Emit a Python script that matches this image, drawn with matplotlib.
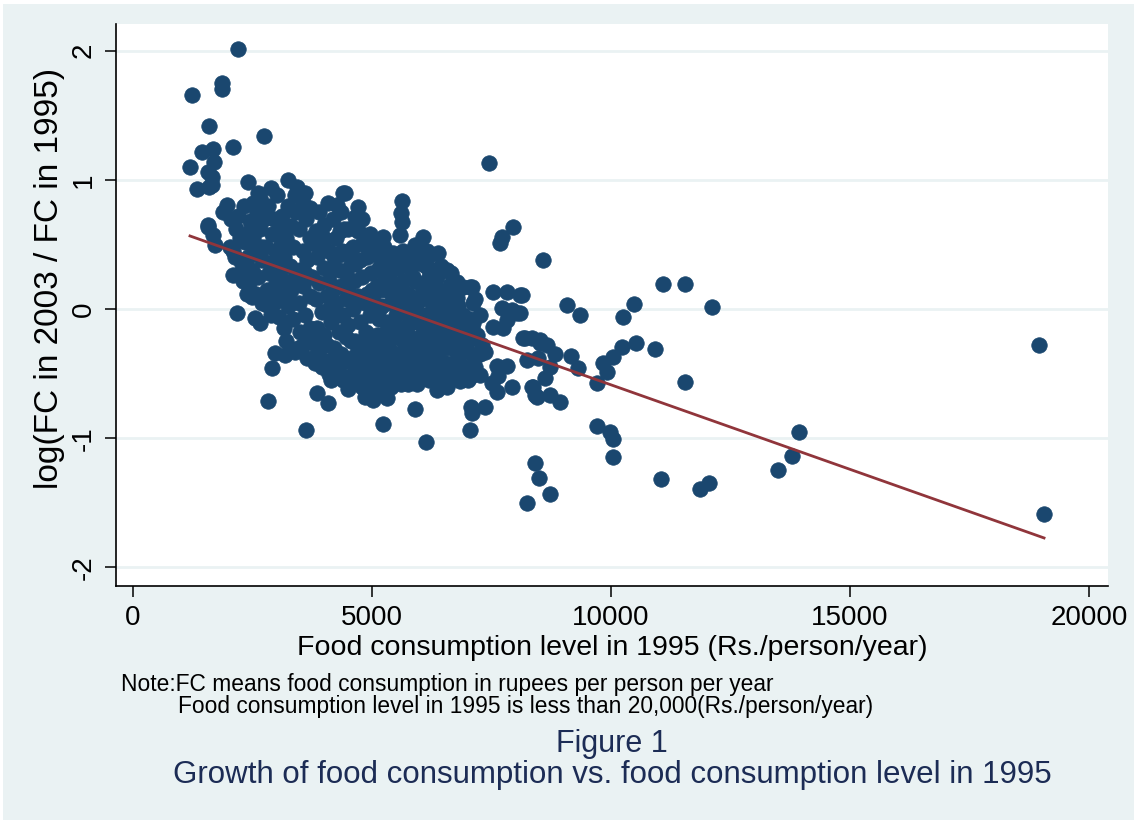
import numpy as np
import matplotlib
matplotlib.use("Agg")
import matplotlib.pyplot as plt
from matplotlib.patches import Rectangle

plt.rcParams['font.family'] = ['Liberation Sans', 'DejaVu Sans']

# (food consumption 1995 in Rs./person/year, log(FC2003/FC1995))
points_low_level = [
    (2203, 2.01), (1855, 1.747), (1855, 1.70), (1228, 1.656), (1597, 1.416),
    (2734, 1.339), (2085, 1.256), (1437, 1.218), (1667, 1.236), (1695, 1.135),
    (1192, 1.10), (1575, 1.06), (1646, 1.02), (1332, 0.926), (1597, 0.947),
    (2413, 0.985), (3250, 1.0), (3424, 0.947), (2887, 0.934), (2622, 0.895),
    (4387, 0.895), (2517, 0.818), (1960, 0.805), (4261, 0.805), (1575, 0.65),
    (1883, 0.753), (1646, 0.96), (1576, 0.637), (1681, 0.573), (1716, 0.495),
    (2029, 0.482), (2134, 0.405), (2448, 0.60), (2343, 0.52), (2099, 0.263),
    (2169, -0.033), (2552, -0.072), (2657, -0.111), (2797, 0.031), (2483, 0.095),
    (2971, -0.338), (2901, -0.459), (2831, -0.71), (3619, -0.937), (3843, -0.652),
    (4086, -0.725), (3389, -0.33), (3180, -0.356),
    (2050, 0.70), (2150, 0.62), (2230, 0.55), (2100, 0.45), (2280, 0.35),
    (2200, 0.72), (2320, 0.80), (2250, 0.28), (2300, 0.22), (2380, 0.12),
]

points_core = [
    (2420, 0.20), (2480, 0.30), (2400, 0.40), (2560, 0.46), (2450, 0.68),
    (2600, 0.75), (2650, 0.62), (2520, 0.55), (2700, 0.38), (2620, 0.25),
    (2580, 0.12), (2700, 0.05), (2660, 0.86), (2750, 0.70),
    (2800, 0.15), (2850, 0.28), (2780, 0.48), (2900, 0.58), (2820, 0.80),
    (2950, 0.70), (3000, 0.45), (2900, 0.36), (3000, 0.20), (2950, 0.05),
    (3050, -0.06), (2880, -0.05), (3020, 0.88), (3050, 0.62), (3080, 0.30),
    (3150, -0.15), (3200, -0.25), (3120, 0.10), (3250, 0.02), (3180, 0.22),
    (3300, 0.15), (3150, 0.40), (3280, 0.33), (3200, 0.55), (3350, 0.48),
    (3120, 0.72), (3300, 0.64), (3250, 0.80), (3380, 0.88), (3350, -0.08),
    (3400, 0.75), (3400, 0.28),
    (3450, -0.30), (3500, -0.18), (3600, -0.05), (3480, 0.05), (3560, 0.18),
    (3700, 0.10), (3500, 0.30), (3650, 0.38), (3550, 0.45), (3700, 0.55),
    (3480, 0.62), (3620, 0.70), (3550, 0.82), (3700, 0.78), (3750, -0.25),
    (3650, -0.38), (3750, 0.25), (3600, 0.90),
    (3800, -0.42), (3900, -0.32), (3850, -0.15), (4000, -0.20), (3950, -0.02),
    (3820, 0.08), (4050, 0.10), (3900, 0.20), (4000, 0.32), (3850, 0.40),
    (3950, 0.50), (4100, 0.45), (3820, 0.60), (4000, 0.65), (3900, 0.75),
    (4080, 0.82), (4100, -0.50), (4050, -0.40), (4100, 0.00), (4100, 0.22),
    (4150, -0.55), (4250, -0.45), (4200, -0.30), (4350, -0.35), (4300, -0.18),
    (4150, -0.10), (4400, -0.05), (4250, 0.05), (4180, 0.15), (4350, 0.18),
    (4300, 0.30), (4450, 0.28), (4200, 0.40), (4380, 0.45), (4250, 0.55),
    (4420, 0.62), (4180, 0.70), (4350, 0.75), (4450, 0.08), (4450, -0.22),
    (4400, -0.55),
    (4500, -0.62), (4600, -0.50), (4550, -0.38), (4700, -0.42), (4650, -0.25),
    (4500, -0.12), (4750, -0.10), (4600, 0.00), (4520, 0.12), (4700, 0.10),
    (4620, 0.22), (4800, 0.25), (4550, 0.35), (4750, 0.38), (4600, 0.48),
    (4800, 0.50), (4500, 0.62), (4700, 0.60), (4780, 0.70), (4800, -0.30),
    (4800, -0.60),
    (4850, -0.68), (4950, -0.55), (5050, -0.62), (4900, -0.42), (5100, -0.45),
    (5000, -0.30), (4880, -0.18), (5100, -0.20), (4950, -0.05), (5150, -0.08),
    (5050, 0.05), (4900, 0.12), (5100, 0.18), (4980, 0.28), (5150, 0.32),
    (4900, 0.40), (5050, 0.45), (4950, 0.58), (5150, 0.00),
    (5200, -0.62), (5300, -0.52), (5400, -0.60), (5250, -0.40), (5450, -0.45),
    (5350, -0.30), (5200, -0.20), (5450, -0.22), (5300, -0.10), (5500, -0.05),
    (5200, 0.02), (5400, 0.05), (5300, 0.15), (5480, 0.18), (5220, 0.28),
    (5400, 0.30), (5300, 0.40), (5500, 0.38), (5250, 0.48),
    (5550, -0.55), (5700, -0.50), (5600, -0.38), (5800, -0.40), (5650, -0.25),
    (5850, -0.28), (5550, -0.15), (5750, -0.12), (5650, -0.02), (5850, 0.00),
    (5550, 0.08), (5750, 0.12), (5650, 0.22), (5850, 0.25), (5550, 0.32),
    (5750, 0.38), (5650, 0.45), (5600, -0.58),
    (5900, -0.52), (6050, -0.45), (6200, -0.55), (5950, -0.35), (6150, -0.32),
    (6000, -0.22), (6200, -0.15), (5900, -0.10), (6100, -0.05), (5950, 0.05),
    (6150, 0.08), (6050, 0.18), (5900, 0.22), (6200, 0.25), (6050, 0.35),
    (5950, 0.42), (6150, 0.45),
    (6250, -0.50), (6400, -0.45), (6300, -0.35), (6500, -0.30), (6350, -0.20),
    (6550, -0.15), (6250, -0.12), (6450, -0.05), (6300, 0.05), (6500, 0.08),
    (6400, 0.15), (6250, 0.30), (6450, 0.33),
    (6600, -0.45), (6750, -0.40), (6650, -0.30), (6850, -0.25), (6700, -0.18),
    (6900, -0.05), (6600, -0.08), (6800, 0.02), (6650, 0.28), (6850, -0.35),
    (6950, -0.45), (7100, -0.35), (7000, -0.25), (7200, -0.20), (7050, -0.08),
    (7250, -0.05), (7150, 0.08), (7300, -0.28),
]

points_core_dense = [
    (3550, -0.28), (3700, -0.15), (3850, -0.30), (3950, -0.45), (4050, -0.28),
    (4150, -0.40), (4300, -0.48), (4350, -0.05), (4450, -0.40), (4550, -0.25),
    (4650, -0.55), (4700, -0.32), (4750, -0.48), (4850, -0.35), (4900, -0.25),
    (4950, -0.62), (5000, -0.48), (5050, -0.38), (5100, -0.58), (5150, -0.28),
    (5200, -0.50), (5250, -0.30), (5300, -0.62), (5350, -0.42), (5400, -0.15),
    (5450, -0.55), (5500, -0.35), (5550, -0.45), (5600, -0.20), (5650, -0.48),
    (5700, -0.32), (5750, -0.58), (5800, -0.22), (5850, -0.45), (5900, -0.30),
    (5950, -0.58), (6000, -0.40), (6050, -0.12), (6100, -0.50), (6150, -0.22),
    (6200, -0.40), (6250, -0.25), (6300, -0.55), (6350, -0.08), (6400, -0.32),
    (6450, -0.55), (6500, -0.20), (6550, -0.42), (6600, -0.25), (6650, -0.52),
    (6700, -0.05), (6750, -0.30), (6800, -0.45), (6850, -0.12), (6900, -0.30),
    (6950, -0.20), (7000, -0.55), (7100, -0.15), (7150, -0.45), (7250, -0.35),
    (3300, 0.05), (3450, 0.20), (3600, 0.28), (3800, 0.50), (4000, 0.55),
    (4150, 0.30), (4300, 0.42), (4500, 0.45), (4650, 0.35), (4850, 0.05),
    (5000, 0.15), (5150, 0.15), (5350, 0.25), (5600, 0.15), (5800, 0.05),
    (6000, 0.10), (6300, 0.20), (6550, 0.00), (6700, 0.10), (2900, 0.15),
    (3100, 0.50), (2700, 0.48),
]

points_mid_level = [
    (7454, 1.13), (5628, 0.838), (5607, 0.74), (5621, 0.676), (5586, 0.573),
    (4435, 0.895), (4714, 0.792), (4644, 0.714), (4680, 0.625), (7957, 0.632),
    (7713, 0.555), (7678, 0.508), (8584, 0.38), (5237, 0.56), (5063, 0.513),
    (6074, 0.56), (5900, 0.495), (6213, 0.418), (6387, 0.431), (6562, 0.30),
    (7050, 0.173), (6841, 0.16), (7538, 0.134), (7817, 0.134), (8096, 0.108),
    (4331, 0.60), (5446, 0.431), (5098, 0.418), (5795, 0.315), (6144, 0.327),
    (6353, 0.25), (6283, 0.173), (6632, 0.186), (6772, 0.211), (7085, 0.173),
    (6911, 0.173), (7120, 0.044), (6772, 0.083), (6597, 0.121), (6632, 0.044),
    (6283, 0.005), (6353, -0.033), (7713, 0.005), (8027, -0.033), (7817, -0.085),
    (8166, -0.227), (7538, -0.137), (7120, -0.111), (6911, -0.137),
    (6130, -1.032), (5237, -0.89), (5900, -0.774), (7050, -0.937), (7064, -0.76),
    (7085, -0.807), (7364, -0.756), (5307, -0.691), (5028, -0.704), (7922, -0.606),
    (8410, -0.666), (8375, -0.601), (6353, -0.627), (6562, -0.601), (7608, -0.64),
    (7503, -0.575), (7643, -0.52), (7608, -0.44), (7817, -0.44), (7260, -0.51),
    (7050, -0.53), (6841, -0.56), (6702, -0.47), (6144, -0.47),
    (7747, -0.15), (7922, -0.01), (8341, -0.227), (8515, -0.266), (7190, -0.357),
    (7364, -0.331),
]

points_high_level = [
    (8131, 0.108), (9086, 0.031), (9351, -0.046), (10481, 0.039), (10245, -0.064),
    (12113, 0.013), (11081, 0.194), (11541, 0.194), (8096, -0.033),
    (8201, -0.227), (8515, -0.24), (8654, -0.279), (8236, -0.395), (8480, -0.382),
    (8828, -0.348), (9156, -0.361), (9316, -0.459), (8724, -0.446), (8619, -0.536),
    (8341, -0.601), (8445, -0.679), (8724, -0.666), (8933, -0.717), (9714, -0.575),
    (9839, -0.42), (9923, -0.485), (10048, -0.369), (10223, -0.297), (10523, -0.261),
    (10921, -0.312), (11555, -0.567), (9714, -0.906), (9979, -0.95), (10035, -1.008),
    (10048, -1.143), (8410, -1.195), (8500, -1.31), (8724, -1.432), (8236, -1.5),
    (11046, -1.318), (11862, -1.396), (12057, -1.349),
    (18960, -0.279), (13933, -0.95), (13780, -1.138), (13501, -1.246), (19059, -1.587),
]

x_ticks = [0, 5000, 10000, 15000, 20000]
y_ticks = [-2, -1, 0, 1, 2]

marker_color = '#1a476f'
line_color = '#90353b'
bg_color = '#eaf2f3'
title_color = '#1c2c55'

all_points = (points_low_level + points_core + points_core_dense
              + points_mid_level + points_high_level)
fc = np.array([p[0] for p in all_points], dtype=float)
growth = np.array([p[1] for p in all_points], dtype=float)

W, H = 1139, 825
fig = plt.figure(figsize=(W / 100, H / 100), dpi=100, facecolor='white')
fig.patches.append(Rectangle((3 / W, 5 / H), 1131 / W, 816 / H,
                             transform=fig.transFigure, facecolor=bg_color,
                             edgecolor='none', zorder=-10))

ax = fig.add_axes([116 / W, 1 - 586 / H, (1108 - 116) / W, (586 - 24) / H])
ax.set_facecolor('white')
ax.set_xlim(-356, 20397)
ax.set_ylim(-2.144, 2.206)

for yv in y_ticks:
    ax.axhline(yv, color=bg_color, lw=2.0, zorder=0)

ax.scatter(fc, growth, s=125, color=marker_color, edgecolors=marker_color,
           linewidths=0.5, zorder=2)

# linear fit of growth on 1995 level
slope, intercept = np.polyfit(fc, growth, 1)
fit_x = np.array([fc.min(), fc.max()])
ax.plot(fit_x, intercept + slope * fit_x, color=line_color, lw=2.0, zorder=3)

for side in ('top', 'right'):
    ax.spines[side].set_visible(False)
for side in ('left', 'bottom'):
    ax.spines[side].set_linewidth(1.2)

ax.set_xticks(x_ticks)
ax.set_xticklabels([str(v) for v in x_ticks])
ax.set_yticks(y_ticks)
ax.set_yticklabels([str(v) for v in y_ticks], rotation=90, va='center')
ax.tick_params(axis='both', length=8, width=1.1, labelsize=20, color='black')
ax.tick_params(axis='x', pad=6)
ax.tick_params(axis='y', pad=6)

fig.text(50 / W, 1 - 278 / H, 'log(FC in 2003 / FC in 1995)', rotation=90,
         ha='center', va='center', fontsize=24)
fig.text(612 / W, 1 - 648 / H, 'Food consumption level in 1995 (Rs./person/year)',
         ha='center', va='center', fontsize=20.5)
fig.text(121 / W, 1 - 685 / H, 'Note:FC means food consumption in rupees per person per year',
         ha='left', va='center', fontsize=16.4)
fig.text(178 / W, 1 - 707 / H, 'Food consumption level in 1995 is less than 20,000(Rs./person/year)',
         ha='left', va='center', fontsize=16.4)
fig.text(612 / W, 1 - 744 / H, 'Figure 1', ha='center', va='center',
         fontsize=22, color=title_color)
fig.text(612 / W, 1 - 775 / H,
         'Growth of food consumption vs. food consumption level in 1995',
         ha='center', va='center', fontsize=22.5, color=title_color)

fig.savefig('out.png', dpi=100, facecolor='white')
